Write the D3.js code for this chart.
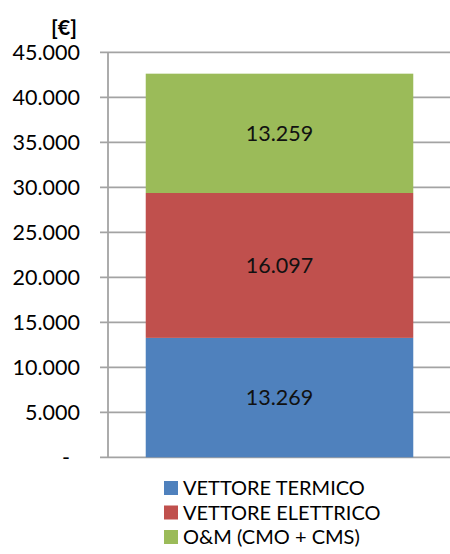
<!DOCTYPE html>
<html>
<head>
<meta charset="utf-8">
<script src="https://cdn.jsdelivr.net/npm/d3@7"></script>
<style>
  html, body { margin: 0; padding: 0; background: #fff; }
  svg { display: block; font-family: Lato, "Open Sans", sans-serif; }
</style>
</head>
<body>
<svg id="chart" width="450" height="554"></svg>
<script>
// Annual costs, one stacked column
const categories = ["Costi annui"];
const seriesNames = ["VETTORE TERMICO", "VETTORE ELETTRICO", "O&M (CMO + CMS)"];
const seriesValues = [13269, 16097, 13259];
const seriesColors = ["#4F81BD", "#C0504D", "#9BBB59"];
const tickValues = [0, 5000, 10000, 15000, 20000, 25000, 30000, 35000, 40000, 45000];
const tickLabels = ["-", "5.000", "10.000", "15.000", "20.000", "25.000", "30.000", "35.000", "40.000", "45.000"];
const unitLabel = "[€]";

const svg = d3.select("#chart");
const plot = { left: 108, right: 451, top: 52.3, bottom: 457.3 };
const fontSize = 21.5;

const y = d3.scaleLinear().domain([0, 45000]).range([plot.bottom, plot.top]);
const x = d3.scaleBand().domain(categories).range([plot.left, plot.right])
  .paddingInner(0.22).paddingOuter(0.11);

const fmt = v => d3.format(",")(v).replace(/,/g, ".");
const gridColor = "#a3a3a3";

// Horizontal gridlines + outward ticks
svg.append("g").selectAll("line").data(tickValues).join("line")
  .attr("x1", 100).attr("x2", 450)
  .attr("y1", d => y(d)).attr("y2", d => y(d))
  .attr("stroke", gridColor).attr("stroke-width", 1.8);

// Vertical axis line
svg.append("line")
  .attr("x1", plot.left).attr("x2", plot.left)
  .attr("y1", y(45000)).attr("y2", y(0))
  .attr("stroke", gridColor).attr("stroke-width", 1.8);

// Tick labels
svg.append("g").selectAll("text").data(tickValues).join("text")
  .attr("x", (d, i) => i === 0 ? 70 : 80)
  .attr("y", d => y(d))
  .attr("dy", "0.35em")
  .attr("text-anchor", "end")
  .attr("font-size", fontSize)
  .attr("fill", "#000")
  .text((d, i) => tickLabels[i]);

// Unit label
svg.append("text")
  .attr("x", 77).attr("y", 27).attr("dy", "0.35em")
  .attr("text-anchor", "end")
  .attr("font-size", fontSize).attr("font-weight", "bold")
  .text(unitLabel);

// Stacked segments
const stacked = [];
let acc = 0;
seriesValues.forEach((v, i) => {
  stacked.push({ name: seriesNames[i], value: v, y0: acc, y1: acc + v, color: seriesColors[i] });
  acc += v;
});

const bars = svg.append("g");
bars.selectAll("rect").data(stacked).join("rect")
  .attr("x", x(categories[0]))
  .attr("width", x.bandwidth())
  .attr("y", d => y(d.y1))
  .attr("height", d => y(d.y0) - y(d.y1))
  .attr("fill", d => d.color);

bars.selectAll("text").data(stacked).join("text")
  .attr("x", x(categories[0]) + x.bandwidth() / 2)
  .attr("y", d => (y(d.y0) + y(d.y1)) / 2)
  .attr("dy", "0.35em")
  .attr("text-anchor", "middle")
  .attr("font-size", fontSize)
  .attr("fill", "#111")
  .text(d => fmt(d.value));

// Legend
const legend = svg.append("g").selectAll("g").data(stacked).join("g")
  .attr("transform", (d, i) => `translate(164, ${488 + i * 24.5})`);
legend.append("rect")
  .attr("x", 0).attr("y", -7).attr("width", 14).attr("height", 14)
  .attr("fill", d => d.color);
legend.append("text")
  .attr("x", 19).attr("y", 0).attr("dy", "0.35em")
  .attr("font-size", 20).attr("fill", "#000")
  .text(d => d.name);
</script>
</body>
</html>
